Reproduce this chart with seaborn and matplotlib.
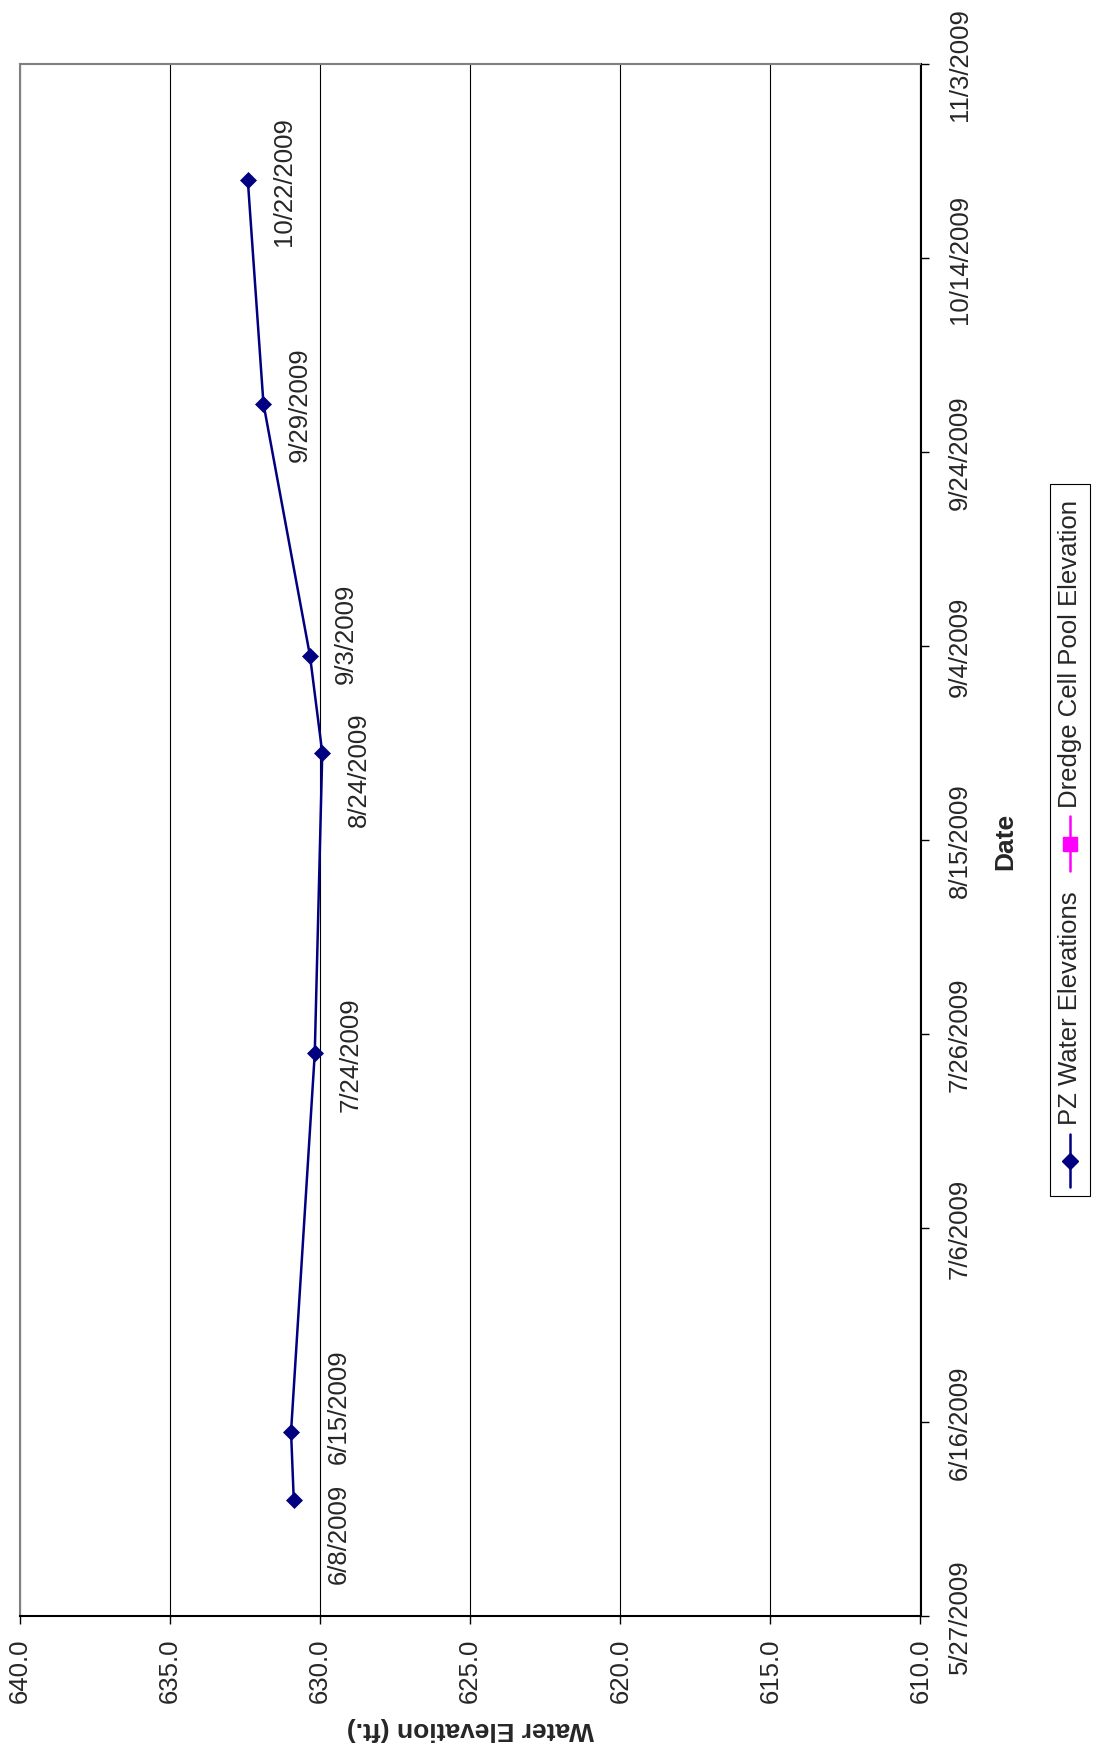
import matplotlib
matplotlib.use('Agg')
import pandas as pd
import matplotlib.pyplot as plt
import matplotlib.dates as mdates
from matplotlib.lines import Line2D
from matplotlib.patches import Rectangle
import seaborn as sns

# 数据
sample_dates = ['2009-06-08', '2009-06-15', '2009-07-24', '2009-08-24',
                '2009-09-03', '2009-09-29', '2009-10-22']
pz_elev = [630.88, 630.97, 630.18, 629.93, 630.34, 631.89, 632.41]
elev_ticks = [610, 615, 620, 625, 630, 635, 640]
date_ticks = ['2009-05-27', '2009-06-16', '2009-07-06', '2009-07-26', '2009-08-15',
              '2009-09-04', '2009-09-24', '2009-10-14', '2009-11-03']
series_names = ['PZ Water Elevations', 'Dredge Cell Pool Elevation']

# nudges (pt) for the point labels so they don't overlap
label_dx = [32.5, 34, 26, 26, 26, 26, 26]
label_dy = [-24, 19, 0, -11.5, 16.5, 0, 0]

sns.set_style('white')
plt.rcParams['font.family'] = ['Liberation Sans', 'DejaVu Sans']

NAVY = '#000080'
MAGENTA = '#FF00FF'
FS = 18.5

df = pd.DataFrame({'date': pd.to_datetime(sample_dates), 'elev': pz_elev})

W, H = 1100, 1749
fig = plt.figure(figsize=(W / 100, H / 100), dpi=100)
ax = fig.add_axes([20 / W, 1 - 1617 / H, 900.5 / W, 1552 / H])

# chart is drawn turned on its side: elevation across, date up
sns.lineplot(data=df, x='elev', y='date', orient='y', color=NAVY, lw=1.8,
             marker='D', markersize=8, markeredgewidth=0.5, markeredgecolor=NAVY,
             ax=ax, zorder=3)

ax.set_xlim(640, 610)
ax.set_ylim(mdates.date2num(pd.Timestamp('2009-05-27')), mdates.date2num(pd.Timestamp('2009-11-03')))

ax.set_xticks(elev_ticks)
ax.set_xticklabels([f'{v:.1f}' for v in elev_ticks], rotation=90)
dt = pd.to_datetime(date_ticks)
ax.set_yticks(mdates.date2num(dt))
ax.set_yticklabels([f'{d.month}/{d.day}/{d.year}' for d in dt], rotation=90, va='center')

ax.yaxis.set_label_position('right')
ax.set_ylabel('Date', fontweight='bold', fontsize=19, labelpad=15, rotation=90)
ax.set_xlabel('Water Elevation (ft.)', fontweight='bold', fontsize=19, rotation=180, labelpad=10)

ax.tick_params(axis='x', bottom=True, direction='out', length=5.8, width=1, pad=9.5,
               labelsize=FS, color='black')
ax.tick_params(axis='y', left=False, right=True, labelleft=False, labelright=True,
               direction='out', length=5.8, width=1, pad=14, labelsize=FS, color='black')

ax.grid(axis='x', color='black', lw=0.8)
ax.grid(axis='y', visible=False)
for s in ['left', 'top']:
    ax.spines[s].set_color('#808080')
    ax.spines[s].set_linewidth(1.5)
for s in ['bottom', 'right']:
    ax.spines[s].set_color('black')
    ax.spines[s].set_linewidth(1.5)

# point labels
for d, e, dx, dy in zip(df['date'], df['elev'], label_dx, label_dy):
    ax.annotate(f'{d.month}/{d.day}/{d.year}', xy=(e, mdates.date2num(d)),
                xytext=(dx, dy), textcoords='offset points', rotation=90,
                ha='center', va='center', fontsize=FS)

# legend, turned like the rest
fig.add_artist(Rectangle((1050 / W, 1 - 1197 / H), 40 / W, (1197 - 485) / H,
                         transform=fig.transFigure, fill=False, edgecolor='black', lw=0.8))
fig.add_artist(Line2D([1070 / W] * 2, [1 - 1135 / H, 1 - 1188 / H],
                      transform=fig.transFigure, color=NAVY, lw=1.8))
fig.add_artist(Line2D([1070 / W], [1 - 1162 / H], marker='D', ms=8, color=NAVY,
                      transform=fig.transFigure))
fig.text(1070 / W, 1 - 1125 / H, series_names[0], rotation=90, ha='center',
         va='bottom', fontsize=FS)
fig.add_artist(Line2D([1070 / W] * 2, [1 - 817 / H, 1 - 872 / H],
                      transform=fig.transFigure, color=MAGENTA, lw=1.8))
fig.add_artist(Line2D([1070 / W], [1 - 845 / H], marker='s', ms=10.5, color=MAGENTA,
                      transform=fig.transFigure))
fig.text(1070 / W, 1 - 808 / H, series_names[1], rotation=90, ha='center',
         va='bottom', fontsize=FS)

fig.savefig('out.png', dpi=100)
